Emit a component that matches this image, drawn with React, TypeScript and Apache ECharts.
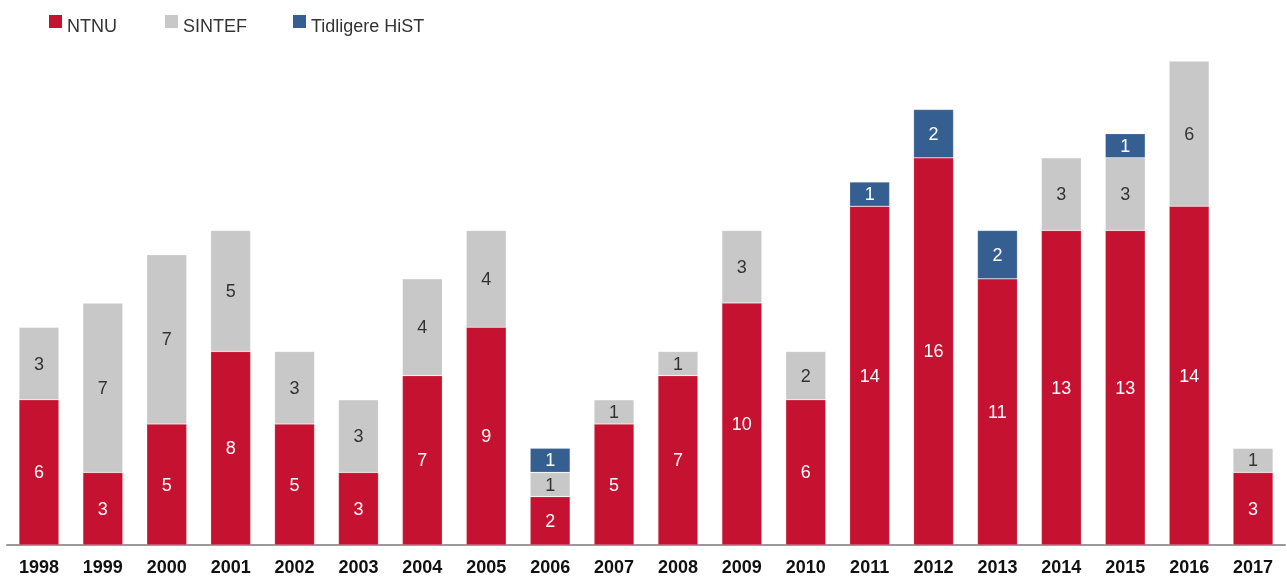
import React, { useEffect, useRef } from "react";
import * as echarts from "echarts";

const years = ["1998","1999","2000","2001","2002","2003","2004","2005","2006","2007","2008","2009","2010","2011","2012","2013","2014","2015","2016","2017"];
const ntnu = [6,3,5,8,5,3,7,9,2,5,7,10,6,14,16,11,13,13,14,3];
const sintef = [3,7,7,5,3,3,4,4,1,1,1,3,2,0,0,0,3,3,6,1];
const hist = [0,0,0,0,0,0,0,0,1,0,0,0,0,1,2,2,0,1,0,0];
const seriesNames = ["NTNU", "SINTEF", "Tidligere HiST"];
const seriesColors = ["#C41230", "#C8C8C8", "#355E91"];
const labelColors = ["#fff", "#333", "#fff"];

const FONT = "'Liberation Sans', Arial, Helvetica, sans-serif";

export default function App() {
  const ref = useRef<HTMLDivElement>(null);
  useEffect(() => {
    if (!ref.current) return;
    const chart = echarts.init(ref.current, undefined, { renderer: "svg" });
    const values = [ntnu, sintef, hist];
    const legendX = [49, 165, 293];
    const graphic: any[] = [];
    seriesNames.forEach((n, i) => {
      graphic.push({ type: "rect", left: legendX[i], top: 15, shape: { width: 13, height: 13 }, style: { fill: seriesColors[i] } });
      graphic.push({
        type: "text",
        left: legendX[i] + 18,
        top: 17,
        style: { text: n, fontFamily: FONT, fontSize: 18, fill: "#333" },
      });
    });
    chart.setOption({
      animation: false,
      graphic,
      grid: { left: 7, right: 2, top: 61, bottom: 28 },
      xAxis: {
        type: "category",
        data: years,
        axisLine: { lineStyle: { color: "#999", width: 2 } },
        axisTick: { show: false },
        axisLabel: { fontFamily: FONT, fontSize: 18, fontWeight: "bold", color: "#111", margin: 13 },
      },
      yAxis: { type: "value", min: 0, max: 20, show: false, splitLine: { show: false } },
      series: seriesNames.map((name, i) => ({
        name,
        type: "bar",
        stack: "total",
        data: values[i],
        barWidth: 40,
        itemStyle: { color: seriesColors[i], borderColor: "rgba(255,255,255,0.35)", borderWidth: 0.6 },
        label: {
          show: true,
          position: "inside",
          color: labelColors[i],
          fontFamily: FONT,
          fontSize: 18,
          formatter: (p: any) => (p.value ? String(p.value) : ""),
        },
      })),
    });
    return () => chart.dispose();
  }, []);
  return <div ref={ref} style={{ position: "fixed", left: 0, top: 0, width: 1287, height: 576 }} />;
}
